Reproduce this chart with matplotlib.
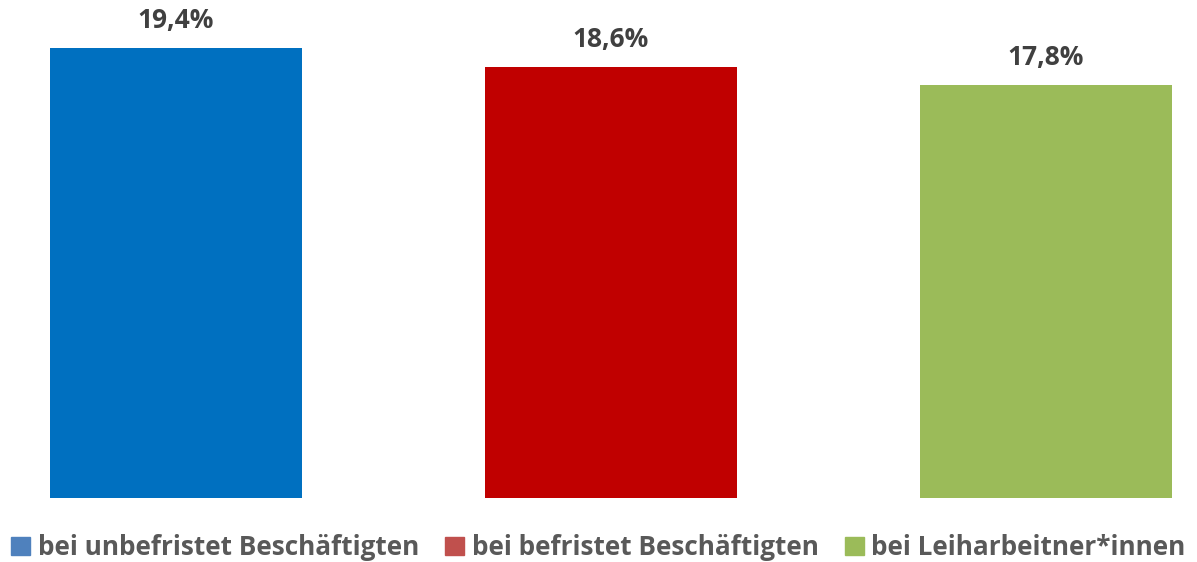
import matplotlib.pyplot as plt
from matplotlib.patches import Patch

plt.rcParams['font.family'] = ['Open Sans', 'DejaVu Sans']

categories = ["bei unbefristet Beschäftigten", "bei befristet Beschäftigten", "bei Leiharbeitner*innen"]
values = [19.4, 18.6, 17.8]
value_labels = ["19,4%", "18,6%", "17,8%"]
bar_colors = ["#0070C0", "#C00000", "#9BBB59"]
legend_colors = ["#4F81BD", "#C0504D", "#9BBB59"]

fig = plt.figure(figsize=(11.97, 5.62), dpi=100)
ax = fig.add_axes([0, 64 / 562, 1, 498 / 562])

x = range(len(values))
ax.bar(x, values, width=0.58, color=bar_colors)
for i, v in enumerate(values):
    ax.text(i, v + 0.6, value_labels[i], ha="center", va="bottom",
            fontsize=19, fontweight="bold", color="#404040")

ax.set_xlim(-176 / 435, 1021 / 435)
ax.set_ylim(0, 19.4 * 498 / 450)
ax.axis("off")

handles = [Patch(color=c, label=l) for c, l in zip(legend_colors, categories)]
fig.legend(handles=handles, loc="lower center", bbox_to_anchor=(0.5, -0.04), ncol=3,
           frameon=False, handlelength=0.72, handleheight=0.72, handletextpad=0.3,
           columnspacing=1.0, prop={"size": 18.8, "weight": "bold"}, labelcolor="#595959")

fig.savefig("out.png", dpi=100)
